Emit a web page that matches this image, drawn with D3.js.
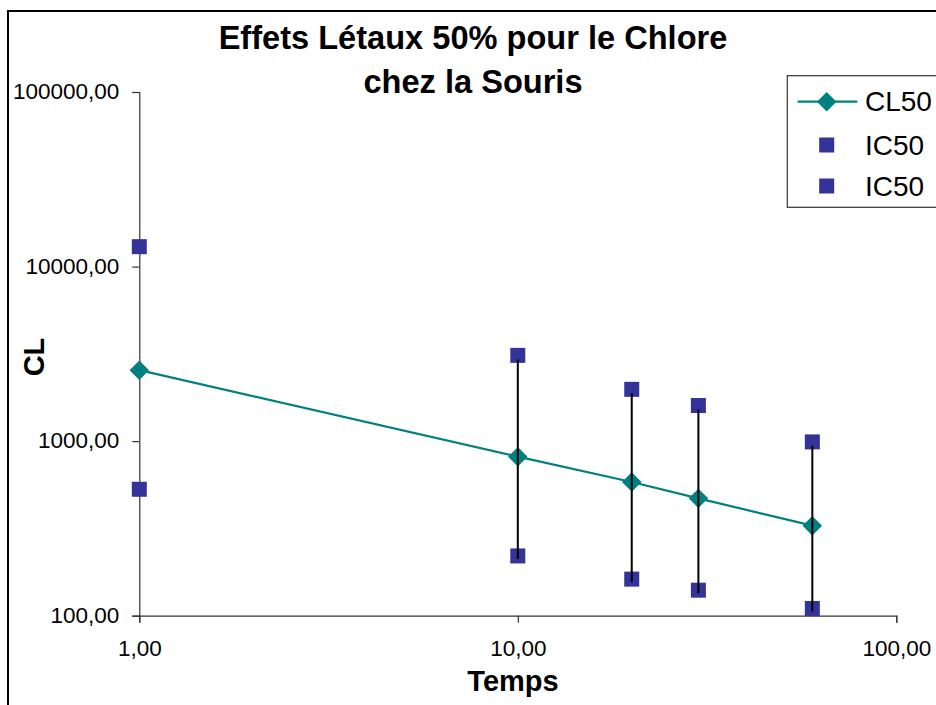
<!DOCTYPE html>
<html>
<head>
<meta charset="utf-8">
<script src="https://cdn.jsdelivr.net/npm/d3@7"></script>
<style>
html,body{margin:0;padding:0;background:#fff;}
svg{display:block;font-family:"Liberation Sans",Arial,sans-serif;}
</style>
</head>
<body>
<svg id="chart" width="936" height="705"></svg>
<script>
const titleLines = ["Effets Létaux 50% pour le Chlore", "chez la Souris"];
const times = [1, 10, 20, 30, 60];
const cl50 = [2550, 815, 583, 470, 328];
const icUpper = [13000, 3100, 1980, 1600, 990];
const icLower = [530, 220, 162, 140, 110];
const barTimes = [10, 20, 30, 60];
const xTicks = [1, 10, 100];
const yTicks = [100, 1000, 10000, 100000];
const legendLabels = ["CL50", "IC50", "IC50"];

const svg = d3.select("#chart");
const teal = "#008080", navy = "#333399";

const x = d3.scaleLog().domain([1, 100]).range([139.3, 896.3]);
const y = d3.scaleLog().domain([100, 100000]).range([615.7, 92]);
const loc = d3.formatLocale({decimal: ",", thousands: "", grouping: [3], currency: ["", ""]});
const fmt = loc.format(".2f");

// outer frame
svg.append("rect").attr("x", 8).attr("y", 11).attr("width", 1000).attr("height", 1000)
  .attr("fill", "none").attr("stroke", "#000").attr("stroke-width", 2);

// title
svg.append("g").selectAll("text").data(titleLines).join("text")
  .attr("x", 473).attr("y", (d, i) => 49 + i * 44)
  .attr("text-anchor", "middle").attr("font-weight", "bold").attr("font-size", 32.6)
  .attr("fill", "#000").text(d => d);

// axes
const xAxis = d3.axisBottom(x).tickValues(xTicks).tickFormat(fmt).tickSize(7).tickPadding(10);
const gx = svg.append("g").attr("transform", "translate(0,615.7)").call(xAxis);
gx.select(".domain").attr("stroke", "#333").attr("stroke-width", 1.2);
gx.selectAll(".tick line").attr("stroke", "#333").attr("stroke-width", 1.2);
gx.selectAll(".tick text").attr("font-size", 22.5).attr("font-family", "Liberation Sans, Arial, sans-serif")
  .attr("fill", "#000").attr("dy", "1.03em");

const yAxis = d3.axisLeft(y).tickValues(yTicks).tickFormat(fmt).tickSize(7).tickPadding(13);
const gy = svg.append("g").attr("transform", "translate(139.3,0)").call(yAxis);
gy.select(".domain").attr("stroke", "#333").attr("stroke-width", 1.2);
gy.selectAll(".tick line").attr("stroke", "#333").attr("stroke-width", 1.2);
gy.selectAll(".tick text").attr("font-size", 22.5).attr("font-family", "Liberation Sans, Arial, sans-serif")
  .attr("fill", "#000").attr("dy", "0.3em");

// axis titles
svg.append("text").attr("x", 513).attr("y", 690.7).attr("text-anchor", "middle")
  .attr("font-weight", "bold").attr("font-size", 29).text("Temps");
svg.append("text").attr("transform", "translate(44,357) rotate(-90)").attr("text-anchor", "middle")
  .attr("font-weight", "bold").attr("font-size", 29).text("CL");

// data
const pts = times.map((t, i) => ({t, cl: cl50[i], up: icUpper[i], lo: icLower[i]}));

const line = d3.line().x(d => x(d.t)).y(d => y(d.cl));
svg.append("path").datum(pts).attr("d", line).attr("fill", "none")
  .attr("stroke", teal).attr("stroke-width", 2.2);

const diamond = d3.symbol().type(d3.symbolSquare).size(190);
svg.append("g").selectAll("path").data(pts).join("path")
  .attr("d", diamond)
  .attr("transform", d => `translate(${x(d.t)},${y(d.cl)}) rotate(45)`)
  .attr("fill", teal);

const sq = 15;
svg.append("g").selectAll("rect").data(pts.flatMap(d => [{t: d.t, v: d.up}, {t: d.t, v: d.lo}])).join("rect")
  .attr("x", d => x(d.t) - sq / 2).attr("y", d => y(d.v) - sq / 2)
  .attr("width", sq).attr("height", sq).attr("fill", navy);

// error bars
const bars = pts.filter(d => barTimes.includes(d.t));
svg.append("g").selectAll("line").data(bars).join("line")
  .attr("x1", d => x(d.t)).attr("x2", d => x(d.t))
  .attr("y1", d => y(d.up) + 4).attr("y2", d => y(d.lo) + 3)
  .attr("stroke", "#000").attr("stroke-width", 2);

// legend
const lg = svg.append("g");
lg.append("rect").attr("x", 787.3).attr("y", 75.7).attr("width", 300).attr("height", 131.6)
  .attr("fill", "#fff").attr("stroke", "#333").attr("stroke-width", 1.2);
const rowsY = [101.7, 145, 186];
lg.append("line").attr("x1", 797.7).attr("x2", 857.3).attr("y1", rowsY[0]).attr("y2", rowsY[0])
  .attr("stroke", teal).attr("stroke-width", 2.2);
lg.append("path").attr("d", diamond).attr("transform", `translate(826.7,${rowsY[0]}) rotate(45)`).attr("fill", teal);
[1, 2].forEach(i => {
  lg.append("rect").attr("x", 826.7 - sq / 2).attr("y", rowsY[i] - sq / 2)
    .attr("width", sq).attr("height", sq).attr("fill", navy);
});
lg.selectAll("text").data(legendLabels).join("text")
  .attr("x", 865).attr("y", (d, i) => rowsY[i] + 9.5)
  .attr("font-size", 28).attr("fill", "#000").text(d => d);
</script>
</body>
</html>
